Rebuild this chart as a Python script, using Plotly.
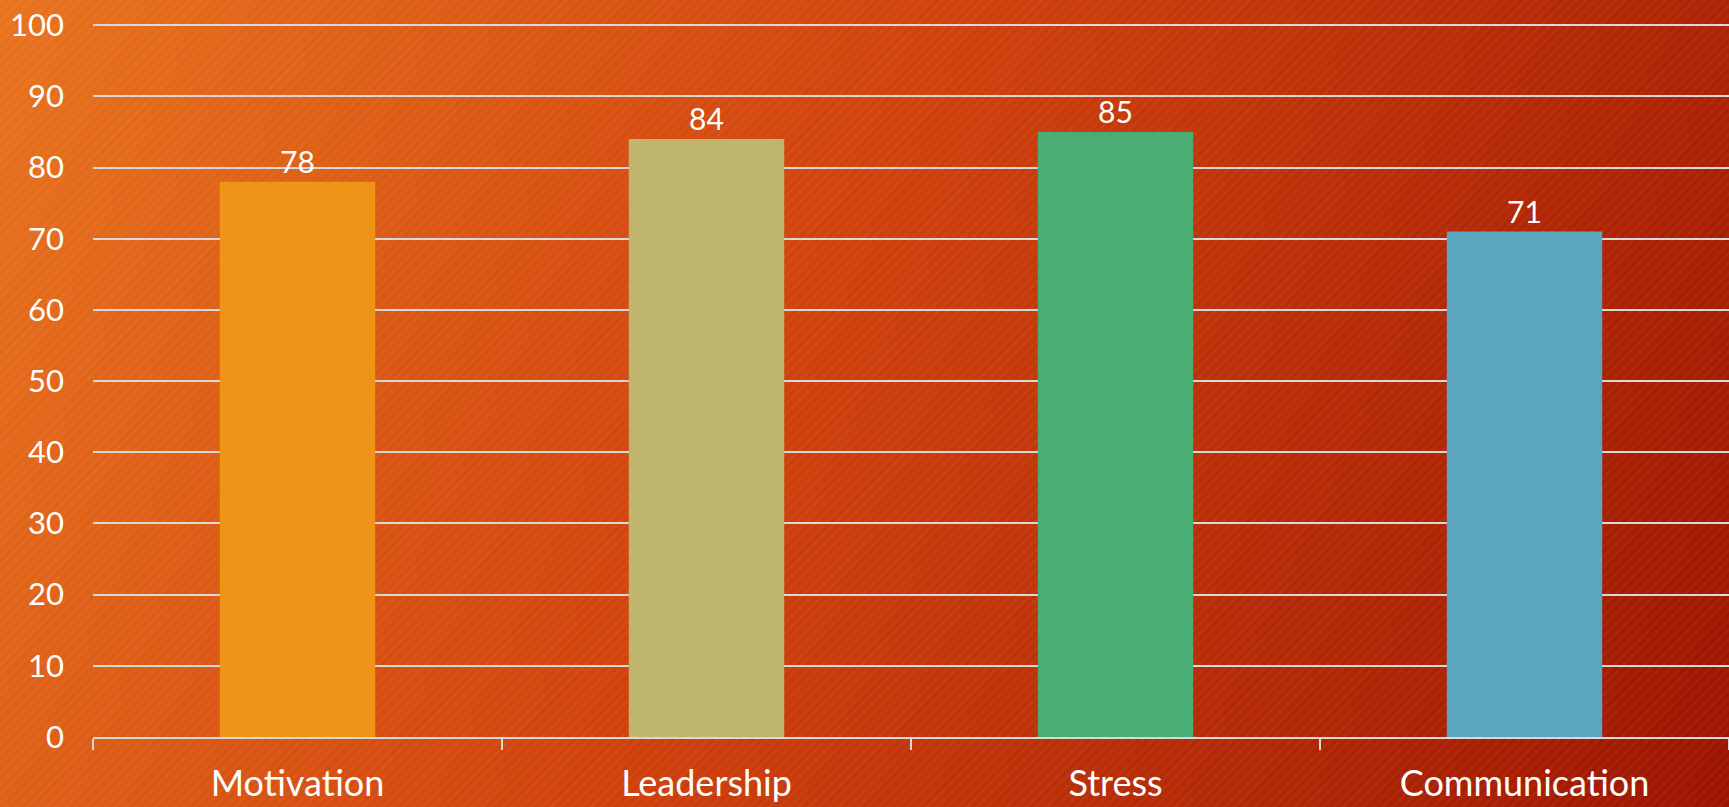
import base64
import plotly.graph_objects as go

categories = ["Motivation", "Leadership", "Stress", "Communication"]
values = [78, 84, 85, 71]
bar_colors = ["#F09418", "#C0B56C", "#4AAE74", "#5BA5C0"]
y_ticks = [0, 10, 20, 30, 40, 50, 60, 70, 80, 90, 100]

W, H = 1729, 807
L, R, T, B = 93, 0, 23, 70
pw, ph = W - L - R, H - T - B

svg = f'''<svg xmlns="http://www.w3.org/2000/svg" width="{W}" height="{H}" viewBox="0 0 {W} {H}">
<defs>
<linearGradient id="g" x1="0" y1="0" x2="{W}" y2="{H}" gradientUnits="userSpaceOnUse">
<stop offset="0" stop-color="#E8731E"/>
<stop offset="0.45" stop-color="#D0420C"/>
<stop offset="1" stop-color="#9C1400"/>
</linearGradient>
<pattern id="p" width="7" height="7" patternUnits="userSpaceOnUse" patternTransform="rotate(-45)">
<rect width="7" height="3" fill="#ffffff" fill-opacity="0.035"/>
</pattern>
</defs>
<rect width="{W}" height="{H}" fill="url(#g)"/>
<rect width="{W}" height="{H}" fill="url(#p)"/>
</svg>'''
src = "data:image/svg+xml;base64," + base64.b64encode(svg.encode()).decode()

font = "Lato"

fig = go.Figure(
    go.Bar(
        x=categories,
        y=values,
        marker=dict(color=bar_colors, line=dict(width=0)),
        text=[str(v) for v in values],
        textposition="outside",
        textfont=dict(family=font, size=30, color="white"),
        cliponaxis=False,
    )
)

fig.update_layout(
    width=W,
    height=H,
    margin=dict(l=L, r=R, t=T, b=B),
    paper_bgcolor="#C8380A",
    plot_bgcolor="rgba(0,0,0,0)",
    bargap=0.62,
    showlegend=False,
    font=dict(family=font, color="white"),
    images=[
        dict(
            source=src,
            xref="paper",
            yref="paper",
            x=-L / pw,
            y=1 + T / ph,
            sizex=W / pw,
            sizey=H / ph,
            xanchor="left",
            yanchor="top",
            sizing="stretch",
            layer="below",
        )
    ],
    xaxis=dict(
        tickson="boundaries",
        ticks="outside",
        ticklen=11,
        tickwidth=2,
        tickcolor="#D9D9D9",
        showline=True,
        linecolor="#D9D9D9",
        linewidth=2,
        showgrid=False,
        tickfont=dict(family=font, size=36, color="white"),
        ticklabelstandoff=14,
    ),
    yaxis=dict(
        range=[0, 100.3],
        tickvals=y_ticks,
        showgrid=True,
        gridcolor="#D9D9D9",
        gridwidth=2,
        zeroline=False,
        showline=False,
        tickfont=dict(family=font, size=31, color="white"),
        ticklabelstandoff=28,
    ),
)

fig.write_html(
    "out.html",
    config={"displayModeBar": False},
    post_script="document.body.style.margin='0';document.body.style.overflow='hidden';",
)
